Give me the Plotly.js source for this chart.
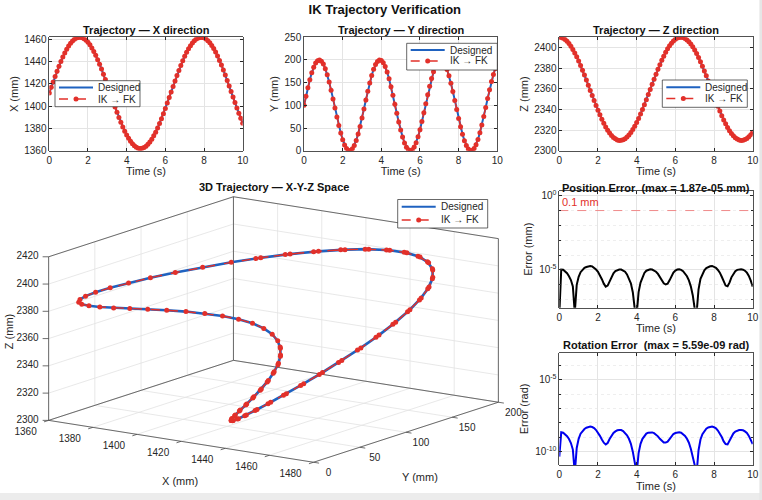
<!DOCTYPE html>
<html>
<head>
<meta charset="utf-8">
<script src="https://cdn.plot.ly/plotly-3.0.1.min.js"></script>
<style>
  html, body { margin: 0; padding: 0; background: #ffffff; }
  #chart { width: 762px; height: 500px; }
</style>
</head>
<body>
<div id="chart"></div>
<script>
// Sample times (s)
const timeS = [
  0.0, 0.1, 0.2, 0.3, 0.4, 0.5, 0.6, 0.7, 0.8, 0.9,
  1.0, 1.1, 1.2, 1.3, 1.4, 1.5, 1.6, 1.7, 1.8, 1.9,
  2.0, 2.1, 2.2, 2.3, 2.4, 2.5, 2.6, 2.7, 2.8, 2.9,
  3.0, 3.1, 3.2, 3.3, 3.4, 3.5, 3.6, 3.7, 3.8, 3.9,
  4.0, 4.1, 4.2, 4.3, 4.4, 4.5, 4.6, 4.7, 4.8, 4.9,
  5.0, 5.1, 5.2, 5.3, 5.4, 5.5, 5.6, 5.7, 5.8, 5.9,
  6.0, 6.1, 6.2, 6.3, 6.4, 6.5, 6.6, 6.7, 6.8, 6.9,
  7.0, 7.1, 7.2, 7.3, 7.4, 7.5, 7.6, 7.7, 7.8, 7.9,
  8.0, 8.1, 8.2, 8.3, 8.4, 8.5, 8.6, 8.7, 8.8, 8.9,
  9.0, 9.1, 9.2, 9.3, 9.4, 9.5, 9.6, 9.7, 9.8, 9.9,
  10.0
];

// Designed end-effector path (mm)
const xDesigned = [
  1412.0, 1417.0, 1421.9, 1426.8, 1431.5, 1436.0, 1440.2, 1444.2, 1447.9, 1451.2,
  1454.1, 1456.6, 1458.6, 1460.2, 1461.3, 1461.9, 1462.0, 1461.6, 1460.7, 1459.3,
  1457.5, 1455.2, 1452.4, 1449.3, 1445.8, 1441.9, 1437.8, 1433.4, 1428.8, 1424.0,
  1419.1, 1414.1, 1409.1, 1404.1, 1399.2, 1394.5, 1389.9, 1385.5, 1381.4, 1377.6,
  1374.2, 1371.1, 1368.4, 1366.2, 1364.4, 1363.1, 1362.3, 1362.0, 1362.2, 1362.9,
  1364.1, 1365.7, 1367.8, 1370.4, 1373.4, 1376.7, 1380.4, 1384.5, 1388.8, 1393.3,
  1398.0, 1402.9, 1407.8, 1412.8, 1417.8, 1422.8, 1427.6, 1432.2, 1436.7, 1440.9,
  1444.9, 1448.5, 1451.7, 1454.5, 1456.9, 1458.9, 1460.4, 1461.4, 1461.9, 1461.9,
  1461.5, 1460.5, 1459.0, 1457.1, 1454.7, 1451.9, 1448.7, 1445.2, 1441.2, 1437.1,
  1432.6, 1428.0, 1423.1, 1418.2, 1413.2, 1408.2, 1403.3, 1398.4, 1393.7, 1389.1,
  1384.8
];
const yDesigned = [
  100.0, 119.9, 138.9, 156.5, 171.7, 184.1, 193.2, 198.5, 200.0, 197.4,
  190.9, 180.9, 167.6, 151.6, 133.5, 114.1, 94.2, 74.5, 55.8, 38.8,
  24.3, 12.8, 4.8, 0.6, 0.4, 4.1, 11.7, 22.7, 36.9, 53.5,
  72.1, 91.7, 111.7, 131.2, 149.4, 165.7, 179.4, 189.9, 196.8, 199.9,
  198.9, 194.1, 185.5, 173.4, 158.5, 141.2, 122.3, 102.5, 82.6, 63.4,
  45.6, 30.0, 17.2, 7.7, 1.9, 0.0, 2.1, 8.1, 17.7, 30.6,
  46.3, 64.2, 83.4, 103.4, 123.2, 142.0, 159.2, 174.0, 185.9, 194.4,
  199.1, 199.8, 196.6, 189.5, 178.8, 165.0, 148.6, 130.3, 110.8, 90.8,
  71.2, 52.8, 36.2, 22.2, 11.2, 3.9, 0.3, 0.7, 5.1, 13.3,
  24.9, 39.5, 56.5, 75.3, 95.0, 115.0, 134.3, 152.3, 168.2, 181.4,
  191.3
];
const zDesigned = [
  2410.0, 2409.8, 2409.0, 2407.8, 2406.1, 2403.9, 2401.3, 2398.2, 2394.8, 2391.1,
  2387.0, 2382.7, 2378.1, 2373.4, 2368.5, 2363.5, 2358.5, 2353.6, 2348.6, 2343.8,
  2339.2, 2334.8, 2330.6, 2326.7, 2323.1, 2319.9, 2317.2, 2314.8, 2312.9, 2311.5,
  2310.5, 2310.0, 2310.1, 2310.6, 2311.7, 2313.2, 2315.2, 2317.6, 2320.5, 2323.7,
  2327.3, 2331.3, 2335.5, 2340.0, 2344.6, 2349.5, 2354.4, 2359.4, 2364.4, 2369.3,
  2374.2, 2378.9, 2383.4, 2387.7, 2391.7, 2395.4, 2398.8, 2401.7, 2404.3, 2406.4,
  2408.0, 2409.2, 2409.8, 2410.0, 2409.7, 2408.8, 2407.5, 2405.7, 2403.5, 2400.8,
  2397.7, 2394.2, 2390.4, 2386.3, 2381.9, 2377.3, 2372.6, 2367.7, 2362.7, 2357.7,
  2352.7, 2347.8, 2343.0, 2338.4, 2334.0, 2329.9, 2326.1, 2322.6, 2319.4, 2316.7,
  2314.4, 2312.6, 2311.3, 2310.4, 2310.0, 2310.1, 2310.8, 2311.9, 2313.5, 2315.5,
  2318.0
];

// Path recovered through IK -> FK (agrees with the design to ~1e-5 mm)
const xIKFK = xDesigned;
const yIKFK = yDesigned;
const zIKFK = zDesigned;

// Position error norm (mm)
const posErr = [
  1.0e-8, 1.07e-5, 1.05e-5, 8.3e-6, 6.0e-6, 3.8e-6, 2.1e-6, 7.9e-7, 1.3e-8, 1.0e-6,
  3.5e-6, 7.1e-6, 1.07e-5, 1.38e-5, 1.58e-5, 1.78e-5, 1.87e-5, 1.74e-5, 1.45e-5, 1.07e-5,
  7.6e-6, 4.5e-6, 2.4e-6, 1.2e-6, 7.6e-7, 8.9e-7, 1.66e-6, 3.5e-6, 6.0e-6, 8.3e-6,
  1.0e-5, 1.07e-5, 1.07e-5, 9.5e-6, 7.6e-6, 5.0e-6, 2.8e-6, 1.26e-6, 3.2e-7, 2.5e-8,
  1.0e-8, 3.2e-7, 1.4e-6, 3.5e-6, 6.3e-6, 8.9e-6, 1.05e-5, 1.1e-5, 1.07e-5, 9.5e-6,
  7.6e-6, 5.4e-6, 3.4e-6, 2.0e-6, 1.26e-6, 1.05e-6, 1.17e-6, 2.0e-6, 4.0e-6, 6.6e-6,
  9.1e-6, 1.07e-5, 1.1e-5, 1.02e-5, 8.3e-6, 6.0e-6, 3.8e-6, 2.0e-6, 7.9e-7, 2.0e-7,
  2.5e-8, 1.3e-8, 5.0e-7, 2.5e-6, 5.6e-6, 9.5e-6, 1.32e-5, 1.58e-5, 1.78e-5, 1.87e-5,
  1.7e-5, 1.38e-5, 1.0e-5, 6.6e-6, 3.5e-6, 1.66e-6, 8.9e-7, 7.9e-7, 1.4e-6, 3.2e-6,
  5.6e-6, 8.3e-6, 1.02e-5, 1.1e-5, 1.1e-5, 1.05e-5, 8.9e-6, 6.6e-6, 4.0e-6, 1.9e-6,
  7.6e-7
];

// Orientation error (rad)
const rotErr = [
  4.5e-11, 2.24e-9, 2.1e-9, 1.66e-9, 1.2e-9, 7.6e-10, 4.0e-10, 1.4e-10, 3.2e-12, 1.8e-10,
  7.9e-10, 1.8e-9, 2.8e-9, 3.8e-9, 4.7e-9, 5.4e-9, 5.59e-9, 5.2e-9, 4.4e-9, 3.2e-9,
  2.1e-9, 1.26e-9, 7.1e-10, 4.2e-10, 3.2e-10, 4.0e-10, 7.6e-10, 1.32e-9, 2.0e-9, 2.6e-9,
  3.1e-9, 3.2e-9, 3.2e-9, 2.75e-9, 2.1e-9, 1.4e-9, 7.9e-10, 3.5e-10, 1.0e-10, 1.0e-11,
  3.2e-12, 7.9e-11, 3.5e-10, 7.9e-10, 1.32e-9, 1.8e-9, 2.1e-9, 2.24e-9, 2.2e-9, 1.95e-9,
  1.6e-9, 1.17e-9, 7.9e-10, 5.5e-10, 4.4e-10, 4.3e-10, 5.0e-10, 7.6e-10, 1.2e-9, 1.7e-9,
  2.0e-9, 2.24e-9, 2.24e-9, 2.1e-9, 1.74e-9, 1.26e-9, 7.9e-10, 4.2e-10, 1.6e-10, 4.0e-11,
  5.0e-12, 3.2e-12, 1.26e-10, 7.1e-10, 1.66e-9, 2.8e-9, 4.0e-9, 4.9e-9, 5.5e-9, 5.59e-9,
  5.1e-9, 4.2e-9, 3.0e-9, 1.9e-9, 1.05e-9, 5.2e-10, 3.4e-10, 3.2e-10, 5.6e-10, 1.12e-9,
  1.86e-9, 2.5e-9, 3.0e-9, 3.2e-9, 3.2e-9, 3.1e-9, 2.6e-9, 2.0e-9, 1.26e-9, 7.1e-10,
  3.4e-10
];

// Position tolerance (mm)
const posTolerance = 0.1;

// Log-axis tick labels
const posTickVals = [1e-5, 1];
const posTickText = ['10<sup>-5</sup>', '10<sup>0</sup>'];
const rotTickVals = [1e-10, 1e-5];
const rotTickText = ['10<sup>-10</sup>', '10<sup>-5</sup>'];
const posMinorVals = [1e-7, 1e-6, 1e-4, 1e-3, 1e-2, 1e-1];
const rotMinorVals = [1e-9, 1e-8, 1e-7, 1e-6, 1e-4];

// 3-D box limits and ticks (mm)
const box3dX = [1360, 1480];
const box3dY = [0, 200];
const box3dZ = [2300, 2420];
const ticks3dX = [1360, 1380, 1400, 1420, 1440, 1460, 1480];
const ticks3dY = [0, 50, 100, 150, 200];
const ticks3dZ = [2300, 2320, 2340, 2360, 2380, 2400, 2420];

const BLUE = '#1f62c0';
const RED = '#e2302a';
const INK = '#262626';
const GRID = '#e4e4e4';
const FONT = 'Liberation Sans, Arial, Helvetica, sans-serif';
const W = 762, H = 500;

// ---- orthographic view of the 3-D box, drawn on a pixel-scaled 2-D axis ----
const VIEW = { az: -55.1, el: 13.1, scale: 323, aspect: [1, 1, 0.52], cx: 273.5, cy: 329.5 };
const rad = Math.PI / 180;
const sA = Math.sin(VIEW.az * rad), cA = Math.cos(VIEW.az * rad);
const sE = Math.sin(VIEW.el * rad), cE = Math.cos(VIEW.el * rad);

function norm(v, lim, a) { return ((v - (lim[0] + lim[1]) / 2) / (lim[1] - lim[0])) * a; }
function project(X, Y, Z) {
  const px = norm(X, box3dX, VIEW.aspect[0]);
  const py = norm(Y, box3dY, VIEW.aspect[1]);
  const pz = norm(Z, box3dZ, VIEW.aspect[2]);
  const right = -sA * px + cA * py;
  const up = -sE * cA * px - sE * sA * py + cE * pz;
  return [VIEW.cx + VIEW.scale * right, VIEW.cy - VIEW.scale * up];
}
function projectPath(xs, ys, zs) {
  const u = [], v = [];
  for (let i = 0; i < xs.length; i++) {
    const p = project(xs[i], ys[i], zs[i]);
    u.push(p[0]); v.push(p[1]);
  }
  return { u: u, v: v };
}
// Collect 3-D segments into one null-separated polyline
function segments(list) {
  const u = [], v = [];
  list.forEach(s => {
    const a = project(s[0][0], s[0][1], s[0][2]);
    const b = project(s[1][0], s[1][1], s[1][2]);
    u.push(a[0], b[0], null); v.push(a[1], b[1], null);
  });
  return { u: u, v: v };
}

const [x0, x1] = box3dX, [y0, y1] = box3dY, [z0, z1] = box3dZ;

// grid on the three back faces: floor, x = min wall, y = max wall
const gridSegs = [];
ticks3dX.forEach(t => {
  gridSegs.push([[t, y0, z0], [t, y1, z0]]);
  gridSegs.push([[t, y1, z0], [t, y1, z1]]);
});
ticks3dY.forEach(t => {
  gridSegs.push([[x0, t, z0], [x1, t, z0]]);
  gridSegs.push([[x0, t, z0], [x0, t, z1]]);
});
ticks3dZ.forEach(t => {
  gridSegs.push([[x0, y0, t], [x0, y1, t]]);
  gridSegs.push([[x0, y1, t], [x1, y1, t]]);
});
const grid3d = segments(gridSegs);

const edgeSegs = [
  [[x0, y0, z0], [x0, y0, z1]],
  [[x0, y1, z0], [x0, y1, z1]],
  [[x1, y1, z0], [x1, y1, z1]],
  [[x0, y0, z1], [x0, y1, z1]],
  [[x0, y1, z1], [x1, y1, z1]],
  [[x0, y0, z0], [x1, y0, z0]],
  [[x1, y0, z0], [x1, y1, z0]],
  [[x0, y0, z0], [x0, y1, z0]],
  [[x0, y1, z0], [x1, y1, z0]]
];
const edges3d = segments(edgeSegs);

// outward tick marks on the labelled edges
const tickSegs = [];
ticks3dX.forEach(t => tickSegs.push([[t, y0, z0], [t, y0 - 5, z0]]));
ticks3dY.forEach(t => tickSegs.push([[x1, t, z0], [x1 + 2.5, t, z0]]));
const ticks3d = segments(tickSegs);
const zTickU = [], zTickV = [];
ticks3dZ.forEach(t => {
  const p = project(x0, y0, t);
  zTickU.push(p[0] - 6, p[0], null); zTickV.push(p[1], p[1], null);
});

function labelSet(vals, fn, dx, dy) {
  const u = [], v = [], s = [];
  vals.forEach(t => { const p = fn(t); u.push(p[0] + dx); v.push(p[1] + dy); s.push(String(t)); });
  return { u: u, v: v, s: s };
}
const xLab = labelSet(ticks3dX, t => project(t, y0, z0), -23, 12);
const yLab = labelSet(ticks3dY, t => project(x1, t, z0), 15, 11);
const zLab = labelSet(ticks3dZ, t => project(x0, y0, t), -10, 0);

const path3d = projectPath(xDesigned, yDesigned, zDesigned);
const path3dIK = projectPath(xIKFK, yIKFK, zIKFK);

// MATLAB-style "%.2e" (two-digit exponent)
function sci(v) {
  const s = v.toExponential(2);
  return s.replace(/e([+-])(\d)$/, 'e$10$2');
}

function designedTrace(xa, ya, yv) {
  return {
    type: 'scatter', mode: 'lines', x: timeS, y: yv, xaxis: xa, yaxis: ya,
    name: 'Designed', showlegend: false,
    line: { color: BLUE, width: 2 }
  };
}
function ikfkTrace(xa, ya, yv) {
  return {
    type: 'scatter', mode: 'lines+markers', x: timeS, y: yv, xaxis: xa, yaxis: ya,
    name: 'IK \u2192 FK', showlegend: false,
    line: { color: RED, width: 1.5, dash: 'dash' },
    marker: { color: RED, size: 5 }
  };
}
function flat(u, v, color, width, dash) {
  return {
    type: 'scatter', mode: 'lines', x: u, y: v, xaxis: 'x6', yaxis: 'y6',
    showlegend: false, connectgaps: false, cliponaxis: false,
    line: { color: color, width: width, dash: dash || 'solid' }
  };
}
function textTrace(lab, pos) {
  return {
    type: 'scatter', mode: 'text', x: lab.u, y: lab.v, text: lab.s,
    xaxis: 'x6', yaxis: 'y6', showlegend: false, cliponaxis: false,
    textposition: pos, textfont: { size: 10, color: INK, family: FONT }
  };
}

const traces = [
  designedTrace('x', 'y', xDesigned),
  ikfkTrace('x', 'y', xIKFK),
  designedTrace('x2', 'y2', yDesigned),
  ikfkTrace('x2', 'y2', yIKFK),
  designedTrace('x3', 'y3', zDesigned),
  ikfkTrace('x3', 'y3', zIKFK),
  {
    type: 'scatter', mode: 'lines', x: [timeS[0], timeS[timeS.length - 1]],
    y: [posTolerance, posTolerance], xaxis: 'x4', yaxis: 'y4',
    showlegend: false, line: { color: '#f08a8a', width: 1, dash: 'dash' }
  },
  {
    type: 'scatter', mode: 'lines', x: timeS, y: posErr, xaxis: 'x4', yaxis: 'y4',
    showlegend: false, line: { color: '#000000', width: 2 }
  },
  {
    type: 'scatter', mode: 'lines', x: timeS, y: rotErr, xaxis: 'x5', yaxis: 'y5',
    showlegend: false, line: { color: '#0000ee', width: 2 }
  },
  // 3-D view
  flat(grid3d.u, grid3d.v, '#e2e2e2', 0.8),
  flat(edges3d.u, edges3d.v, '#4a4a4a', 0.8),
  flat(ticks3d.u, ticks3d.v, '#4a4a4a', 0.8),
  flat(zTickU, zTickV, '#4a4a4a', 0.8),
  textTrace(xLab, 'middle center'),
  textTrace(yLab, 'middle center'),
  textTrace(zLab, 'middle left'),
  {
    type: 'scatter', mode: 'lines', x: path3d.u, y: path3d.v, xaxis: 'x6', yaxis: 'y6',
    name: 'Designed', showlegend: false, line: { color: BLUE, width: 2.6 }
  },
  {
    type: 'scatter', mode: 'lines+markers', x: path3dIK.u, y: path3dIK.v, xaxis: 'x6', yaxis: 'y6',
    name: 'IK \u2192 FK', showlegend: false,
    line: { color: RED, width: 1.4, dash: 'dash' },
    marker: { color: RED, size: 5 }
  }
];

function xAxis(domain, anchor) {
  return {
    domain: domain, anchor: anchor, range: [0, 10], dtick: 2, tick0: 0,
    showline: true, linecolor: INK, linewidth: 0.8, mirror: 'ticks',
    ticks: 'inside', ticklen: 3, tickcolor: INK,
    showgrid: true, gridcolor: GRID, zeroline: false,
    tickfont: { size: 10, color: INK },
    title: { text: 'Time (s)', font: { size: 11, color: INK }, standoff: 2 }
  };
}
function yAxis(domain, anchor, range, dtick, title) {
  return {
    domain: domain, anchor: anchor, range: range, dtick: dtick,
    showline: true, linecolor: INK, linewidth: 0.8, mirror: 'ticks',
    ticks: 'inside', ticklen: 3, tickcolor: INK,
    showgrid: true, gridcolor: GRID, zeroline: false,
    tickfont: { size: 10, color: INK },
    title: { text: title, font: { size: 11, color: INK }, standoff: 3 }
  };
}
function logAxis(domain, anchor, range, vals, text, minorVals, title) {
  return {
    domain: domain, anchor: anchor, type: 'log', range: range,
    tickmode: 'array', tickvals: vals, ticktext: text,
    showline: true, linecolor: INK, linewidth: 0.8, mirror: 'ticks',
    ticks: 'inside', ticklen: 3, tickcolor: INK,
    showgrid: true, gridcolor: GRID, zeroline: false,
    tickfont: { size: 10, color: INK },
    minor: {
      tickmode: 'array', tickvals: minorVals, ticks: 'inside', ticklen: 2,
      tickcolor: INK, showgrid: true, gridcolor: '#eeeeee', griddash: 'dot'
    },
    title: { text: title, font: { size: 11, color: INK }, standoff: 4 }
  };
}

const topDomainY = [0.6986, 0.9254];
const px = v => v / W;
const py = v => 1 - v / H;

function titleNote(text, x, y) {
  return {
    text: '<b>' + text + '</b>', x: px(x), y: py(y), xref: 'paper', yref: 'paper',
    xanchor: 'center', yanchor: 'middle', showarrow: false,
    font: { size: 11, color: '#111111', family: FONT }
  };
}

// Hand-built legend boxes (compact, MATLAB-like)
const shapes = [];
const annotations = [];
function legendBox(left, top, width, height, row1, row2) {
  shapes.push({ type: 'rect', xref: 'paper', yref: 'paper',
    x0: px(left), x1: px(left + width), y0: py(top + height), y1: py(top),
    fillcolor: '#ffffff', line: { color: INK, width: 0.7 }, layer: 'above' });
  const s0 = left + 4, s1 = left + 38, tx = left + 41;
  shapes.push({ type: 'line', xref: 'paper', yref: 'paper',
    x0: px(s0), x1: px(s1), y0: py(top + row1), y1: py(top + row1),
    line: { color: BLUE, width: 2 }, layer: 'above' });
  shapes.push({ type: 'line', xref: 'paper', yref: 'paper',
    x0: px(s0), x1: px(s1), y0: py(top + row2), y1: py(top + row2),
    line: { color: RED, width: 1.5, dash: 'dash' }, layer: 'above' });
  const mc = (s0 + s1) / 2, r = 2.5;
  shapes.push({ type: 'circle', xref: 'paper', yref: 'paper',
    x0: px(mc - r), x1: px(mc + r), y0: py(top + row2 + r), y1: py(top + row2 - r),
    fillcolor: RED, line: { color: RED, width: 0 }, layer: 'above' });
  [['Designed', row1], ['IK \u2192 FK', row2]].forEach(e => {
    annotations.push({ text: e[0], x: px(tx), y: py(top + e[1]), xref: 'paper', yref: 'paper',
      xanchor: 'left', yanchor: 'middle', showarrow: false,
      font: { size: 10, color: INK, family: FONT } });
  });
}
legendBox(55, 80.7, 85, 26, 6.8, 18.4);
legendBox(406.7, 43.3, 90.6, 26.7, 6.8, 17.6);
legendBox(662.3, 80, 85, 27.3, 7.3, 18.5);
legendBox(397.7, 199.5, 90, 28.5, 7.2, 20.5);

annotations.push(
  titleNote('Trajectory \u2014 X direction', 146, 30),
  titleNote('Trajectory \u2014 Y direction', 401.3, 30),
  titleNote('Trajectory \u2014 Z direction', 656, 30),
  titleNote('3D Trajectory \u2014 X-Y-Z Space', 274, 186.5),
  titleNote('Position Error\u00a0 (max = ' + sci(Math.max(...posErr)) + ' mm)', 655.5, 187.7),
  titleNote('Rotation Error\u00a0 (max = ' + sci(Math.max(...rotErr)) + ' rad)', 656, 345),
  {
    text: posTolerance + ' mm', x: px(580.3), y: py(201.7), xref: 'paper', yref: 'paper',
    xanchor: 'center', yanchor: 'middle', showarrow: false,
    font: { size: 11, color: RED, family: FONT }
  }
);

// 3-D axis titles placed next to the middle of each labelled edge
const xMid = project((x0 + x1) / 2, y0, z0);
const yMid = project(x1, (y0 + y1) / 2, z0);
const zMid = project(x0, y0, (z0 + z1) / 2);
function axisNote(text, p, dx, dy, angle) {
  return { text: text, x: p[0] + dx, y: p[1] + dy, xref: 'x6', yref: 'y6',
    xanchor: 'center', yanchor: 'middle', showarrow: false, textangle: angle || 0,
    font: { size: 11, color: INK, family: FONT } };
}
annotations.push(
  axisNote('X (mm)', xMid, -1, 40),
  axisNote('Y (mm)', yMid, 14, 45),
  axisNote('Z (mm)', zMid, -40, -7, -90)
);

// Light frame along the bottom and right borders
shapes.push(
  { type: 'rect', xref: 'paper', yref: 'paper', x0: 0, x1: 1, y0: 0, y1: 0.014,
    fillcolor: '#ececec', line: { width: 0 }, layer: 'above' },
  { type: 'rect', xref: 'paper', yref: 'paper', x0: 0.9966, x1: 1, y0: 0, y1: 1,
    fillcolor: '#e6e6e6', line: { width: 0 }, layer: 'above' }
);

const layout = {
  width: W, height: H,
  margin: { l: 0, r: 0, t: 0, b: 0 },
  paper_bgcolor: '#ffffff', plot_bgcolor: 'rgba(0,0,0,0)',
  font: { family: FONT, color: INK },
  hovermode: false, showlegend: false,
  title: {
    text: '<b>IK Trajectory Verification</b>', x: 0.505, y: 0.982,
    xanchor: 'center', yanchor: 'middle', font: { size: 13, color: '#111111' }
  },
  xaxis: xAxis([0.0647, 0.3185], 'y'),
  yaxis: yAxis(topDomainY, 'x', [1360, 1462], 20, 'X (mm)'),
  xaxis2: xAxis([0.399, 0.6526], 'y2'),
  yaxis2: yAxis(topDomainY, 'x2', [0, 250], 50, 'Y (mm)'),
  xaxis3: xAxis([0.734, 0.9878], 'y3'),
  yaxis3: yAxis(topDomainY, 'x3', [2300, 2410], 20, 'Z (mm)'),
  xaxis4: xAxis([0.734, 0.9878], 'y4'),
  yaxis4: logAxis([0.3846, 0.6186], 'x4', [-7.54, 0.336], posTickVals, posTickText, posMinorVals, 'Error (mm)'),
  xaxis5: xAxis([0.734, 0.9878], 'y5'),
  yaxis5: logAxis([0.07, 0.2946], 'x5', [-10.93, -3.1], rotTickVals, rotTickText, rotMinorVals, 'Error (rad)'),
  // pixel-scaled canvas for the projected 3-D view
  xaxis6: { domain: [0, 540 / W], range: [0, 540], anchor: 'y6', visible: false, fixedrange: true },
  yaxis6: { domain: [0, 330 / H], range: [500, 170], anchor: 'x6', visible: false, fixedrange: true },
  annotations: annotations,
  shapes: shapes
};

Plotly.newPlot('chart', traces, layout, { displayModeBar: false, staticPlot: true });
</script>
</body>
</html>
